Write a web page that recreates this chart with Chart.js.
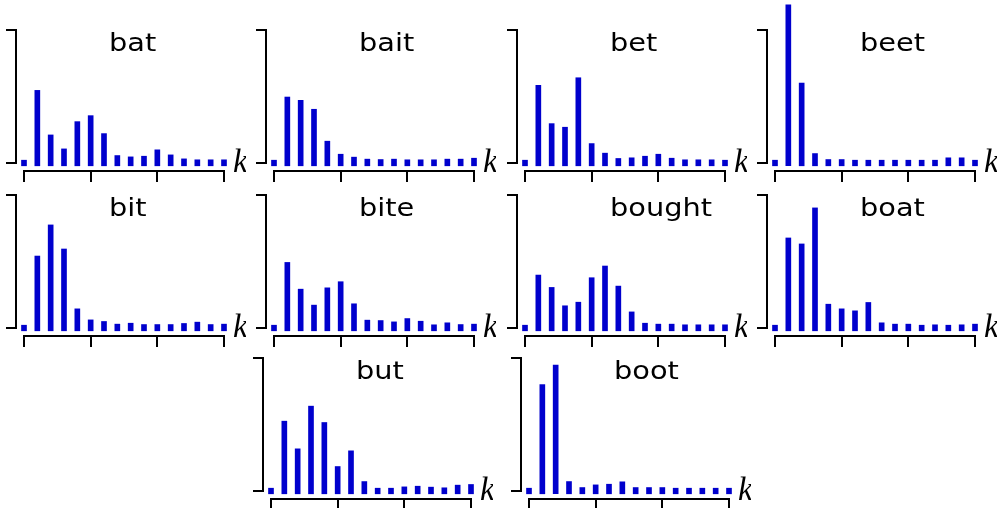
<!DOCTYPE html>
<html>
<head>
<meta charset="utf-8">
<script src="https://cdn.jsdelivr.net/npm/chart.js"></script>
<style>
  body { margin: 0; background: #fff; }
  #fig { position: relative; width: 1008px; height: 508px; overflow: hidden; background: #fff; }
  #fig canvas { position: absolute; }
  .titolo {
    position: absolute;
    font-family: 'DejaVu Sans', sans-serif;
    font-size: 24px;
    line-height: 24px;
    color: #000;
    white-space: nowrap;
    transform: scaleX(1.2);
    transform-origin: 0 0;
  }
</style>
</head>
<body>
<div id="fig"></div>
<script>
const kValues = [0, 1, 2, 3, 4, 5, 6, 7, 8, 9, 10, 11, 12, 13, 14, 15];
const xTicks = [0, 5, 10, 15];
const yTicks = [0, 1];
const words = ["bat", "bait", "bet", "beet", "bit", "bite", "bought", "boat", "but", "boot"];

const bat    = [0, 0.525, 0.19, 0.085, 0.29, 0.335, 0.2, 0.035, 0.025, 0.03, 0.078, 0.04, 0.01, 0.003, 0.003, 0.003];
const bait   = [0, 0.475, 0.45, 0.383, 0.143, 0.045, 0.023, 0.008, 0.005, 0.008, 0.003, 0.003, 0.003, 0.008, 0.008, 0.015];
const bet    = [0, 0.563, 0.275, 0.248, 0.62, 0.125, 0.053, 0.013, 0.018, 0.03, 0.045, 0.015, 0.003, 0.003, 0.003, 0];
const beet   = [0, 1.168, 0.58, 0.05, 0.005, 0.005, 0, 0, 0, 0, 0, 0, 0, 0.018, 0.018, 0];
const bit    = [0, 0.52, 0.754, 0.573, 0.123, 0.04, 0.028, 0.008, 0.015, 0.005, 0.005, 0.005, 0.013, 0.023, 0.005, 0.008];
const bite   = [0, 0.472, 0.271, 0.151, 0.281, 0.327, 0.161, 0.038, 0.035, 0.025, 0.05, 0.03, 0.003, 0.018, 0.005, 0.008];
const bought = [0, 0.377, 0.284, 0.146, 0.173, 0.357, 0.445, 0.294, 0.1, 0.015, 0.008, 0.008, 0.003, 0.003, 0.003, 0.003];
const boat   = [0, 0.656, 0.611, 0.882, 0.158, 0.123, 0.108, 0.171, 0.018, 0.008, 0.008, 0, 0.003, 0, 0.003, 0.008];
const but    = [0, 0.504, 0.296, 0.617, 0.494, 0.163, 0.281, 0.05, 0, 0, 0.01, 0.015, 0.008, 0.003, 0.023, 0.028];
const boot   = [0, 0.779, 0.925, 0.05, 0.005, 0.025, 0.03, 0.048, 0.005, 0.005, 0.005, 0, 0, 0, 0, 0];

const series = [bat, bait, bet, beet, bit, bite, bought, boat, but, boot];

// angolo alto-sinistra dell'area dati di ogni pannello (px pagina)
const panelPos = [
  [24, 30], [274, 30], [525, 30], [775, 30],
  [24, 195], [274, 195], [525, 195], [775, 195],
  [271, 358], [529, 358]
];

const CAP = 0.021; // mezza larghezza della barra, in unità y
const fig = document.getElementById("fig");

words.forEach((word, i) => {
  const [left, top] = panelPos[i];

  const canvas = document.createElement("canvas");
  canvas.width = 250;
  canvas.height = 190;
  canvas.style.left = (left - 24) + "px";
  canvas.style.top = (top - 30) + "px";
  fig.appendChild(canvas);

  const titolo = document.createElement("div");
  titolo.className = "titolo";
  titolo.textContent = word;
  titolo.style.left = (left + 85) + "px";
  titolo.style.top = (top + 1) + "px";
  fig.appendChild(titolo);

  new Chart(canvas.getContext("2d"), {
    type: "bar",
    data: {
      datasets: [
        {
          data: kValues.map((k, j) => ({ x: k, y: [-CAP, series[i][j] + CAP] })),
          backgroundColor: "#0000cd",
          borderWidth: 0,
          barThickness: 5,
          clip: false,
        },
      ],
    },
    options: {
      responsive: false,
      animation: false,
      layout: { padding: { left: 24, top: 30, right: 4, bottom: 27 } },
      plugins: {
        legend: { display: false },
        tooltip: { enabled: false },
      },
      scales: {
        x: {
          type: "linear",
          min: 0,
          max: 15,
          offset: false,
          position: { y: -0.06 },
          afterBuildTicks: (s) => { s.ticks = xTicks.map((v) => ({ value: v })); },
          afterFit: (s) => { s.height = 0; },
          ticks: { display: false },
          grid: { offset: false, drawOnChartArea: false, tickLength: 10, lineWidth: 2, color: "#000" },
          border: { color: "#000", width: 2 },
        },
        y: {
          type: "linear",
          min: 0,
          max: 1,
          position: { x: -0.6 },
          afterBuildTicks: (s) => { s.ticks = yTicks.map((v) => ({ value: v })); },
          afterFit: (s) => { s.width = 0; },
          ticks: { display: false },
          grid: { drawOnChartArea: false, tickLength: 9, lineWidth: 2, color: "#000" },
          border: { color: "#000", width: 2 },
        },
        y2: {
          type: "linear",
          position: "right",
          min: 0,
          max: 1,
          afterBuildTicks: (s) => { s.ticks = [{ value: 0 }]; },
          afterFit: (s) => {
            s.width = 22;
            s.paddingTop = 0;
            s.paddingBottom = 0;
          },
          ticks: {
            callback: () => "k",
            color: "#000",
            padding: 9,
            font: { family: "'Liberation Serif', serif", style: "italic", size: 33 },
          },
          grid: { display: false, drawTicks: false },
          border: { display: false },
        },
      },
    },
  });
});
</script>
</body>
</html>
